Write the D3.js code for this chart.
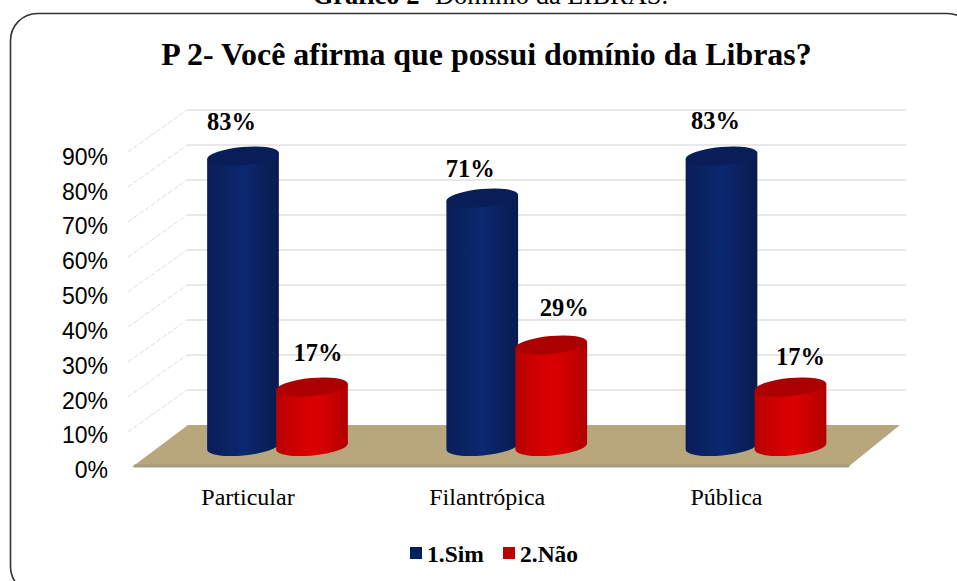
<!DOCTYPE html>
<html>
<head>
<meta charset="utf-8">
<style>
html,body{margin:0;padding:0;background:#fff;overflow:hidden}
svg{display:block}
text{font-family:"Liberation Serif",serif;fill:#000}
</style>
<script src="https://d3js.org/d3.v7.min.js"></script>
</head>
<body>
<svg id="chart" width="957" height="581"></svg>
<script>
// Survey results, percent of answers per school type
const categories = ["Particular", "Filantrópica", "Pública"];
const seriesNames = ["1.Sim", "2.Não"];
const sim = [83, 71, 83];
const nao = [17, 29, 17];
const tickValues = [0, 10, 20, 30, 40, 50, 60, 70, 80, 90];

const svg = d3.select("#chart");
const defs = svg.append("defs");

// Plot geometry: front edge of the floor and the offset to the back wall
const floorFrontY = 467, floorBackY = 425, wallLeft = 187, wallRight = 906;
const depthX = 59, depthY = 42;

const axisY = d3.scaleLinear().domain([0, 90]).range([floorFrontY, floorFrontY - 315]);
const labelY = d3.scaleLinear().domain([0, 90]).range([469.5, 156]);
const heightOf = d3.scaleLinear().domain([0, 90]).range([0, 315]);
const groupX = d3.scalePoint().domain(categories).range([277.5, 756]);
const seriesX = d3.scalePoint().domain(seriesNames).range([-34.5, 34.5]);

// Document caption above the frame
const caption = svg.append("text").attr("x", 490.5).attr("y", 4)
  .attr("text-anchor", "middle").style("font-size", "26.5px");
caption.append("tspan").style("font-weight", "bold").text("Gráfico 2");
caption.append("tspan").text("- Domínio da LIBRAS.");

// Rounded outer frame, running past the right and bottom edges of the page
svg.append("rect").attr("x", 10.5).attr("y", 13.5).attr("width", 964).attr("height", 580)
  .attr("rx", 27).attr("fill", "#fff").attr("stroke", "#333").attr("stroke-width", 1.6);

svg.append("text").attr("x", 486.5).attr("y", 65).attr("text-anchor", "middle")
  .style("font-size", "31.9px").style("font-weight", "bold")
  .text("P 2- Você afirma que possui domínio da Libras?");

// Back wall and side wall gridlines
const gridTicks = tickValues.filter(d => d > 0);
svg.append("g").selectAll("line").data(gridTicks).join("line")
  .attr("x1", wallLeft).attr("x2", wallRight)
  .attr("y1", d => axisY(d) - depthY).attr("y2", d => axisY(d) - depthY)
  .attr("stroke", "#e8e8e8").attr("stroke-width", 1.8);
svg.append("g").selectAll("line").data(gridTicks).join("line")
  .attr("x1", wallLeft - depthX).attr("x2", wallLeft)
  .attr("y1", d => axisY(d)).attr("y2", d => axisY(d) - depthY)
  .attr("stroke", "#dedede").attr("stroke-width", 1).attr("stroke-dasharray", "5 2");

// Floor
svg.append("path")
  .attr("d", d3.line()([[132, floorFrontY], [188, floorBackY], [900, floorBackY], [848, floorFrontY]]) + "Z")
  .attr("fill", "#b8a67c");
svg.append("path")
  .attr("d", d3.line()([[134, floorFrontY - 1], [849, floorFrontY - 1]]))
  .attr("stroke", "#a69c84").attr("stroke-width", 3);

// Value axis
const yAxis = svg.append("g").attr("transform", "translate(108,0)")
  .call(d3.axisLeft(labelY).tickValues(tickValues).tickSize(0).tickPadding(0).tickFormat(d => d + "%"));
yAxis.select(".domain").remove();
yAxis.selectAll("text").style("font-family", '"Liberation Sans",sans-serif')
  .style("font-size", "23px").attr("fill", "#000").attr("dy", "0.36em");

// Cylinder shading, one gradient per series
const palettes = [
  { side: ["#0a1d58", "#0a2362", "#0b2870", "#0a215e", "#081b50"], cap: "#091d58", key: "#002060" },
  { side: ["#b80000", "#cc0000", "#dc0000", "#cc0000", "#b00000"], cap: "#ac0000", key: "#c00000" }
];
palettes.forEach((p, i) => {
  const g = defs.append("linearGradient").attr("id", "side" + i);
  p.side.forEach((c, j) => g.append("stop").attr("offset", j / (p.side.length - 1)).attr("stop-color", c));
});

const rx = 36, ry = 9, tilt = -0.09, baseY = 446.5;
const cosT = Math.cos(tilt), sinT = Math.sin(tilt);
const rot = tilt * 180 / Math.PI;

// Blue cylinders first, so each red one sits in front of its neighbour
const marks = [];
categories.forEach((c, i) => marks.push({ s: 0, i, c, v: sim[i] }));
categories.forEach((c, i) => marks.push({ s: 1, i, c, v: nao[i] }));

const cyl = svg.append("g").selectAll("g").data(marks).join("g")
  .attr("transform", d => `translate(${groupX(d.c) + seriesX(seriesNames[d.s])},0)`);

cyl.append("path")
  .attr("fill", d => `url(#side${d.s})`)
  .attr("d", d => {
    const top = baseY - heightOf(d.v);
    const dx = rx * cosT, dy = rx * sinT;
    return `M${-dx},${top - dy} L${-dx},${baseY - dy} ` +
      `A${rx},${ry} ${rot} 0 0 ${dx},${baseY + dy} ` +
      `L${dx},${top + dy} Z`;
  });
cyl.append("ellipse")
  .attr("rx", rx).attr("ry", ry)
  .attr("fill", d => palettes[d.s].cap)
  .attr("transform", d => `translate(0,${baseY - heightOf(d.v)}) rotate(${rot})`);

// Value labels, nudged individually from the top of each cylinder
const labelNudge = [
  [[-11.5, -26], [-12, -21], [-6, -27]],
  [[6, -26], [13, -29], [10, -22]]
];
svg.append("g").selectAll("text").data(marks).join("text")
  .attr("text-anchor", "middle")
  .style("font-size", "24.5px").style("font-weight", "bold")
  .attr("x", d => groupX(d.c) + seriesX(seriesNames[d.s]) + labelNudge[d.s][d.i][0])
  .attr("y", d => baseY - heightOf(d.v) + labelNudge[d.s][d.i][1])
  .text(d => d.v + "%");

// Category labels
svg.append("g").selectAll("text").data(categories).join("text")
  .attr("x", d => groupX(d) - 29.5).attr("y", 505)
  .attr("text-anchor", "middle").style("font-size", "24px")
  .text(d => d);

// Legend
const legendX = [410, 503];
const legend = svg.append("g").selectAll("g").data(seriesNames).join("g")
  .attr("transform", (d, i) => `translate(${legendX[i]},547)`);
legend.append("rect").attr("width", 12).attr("height", 12)
  .attr("fill", (d, i) => palettes[i].key);
legend.append("text").attr("x", 17).attr("y", 15)
  .style("font-size", "23.5px").style("font-weight", "bold").text(d => d);
</script>
</body>
</html>
